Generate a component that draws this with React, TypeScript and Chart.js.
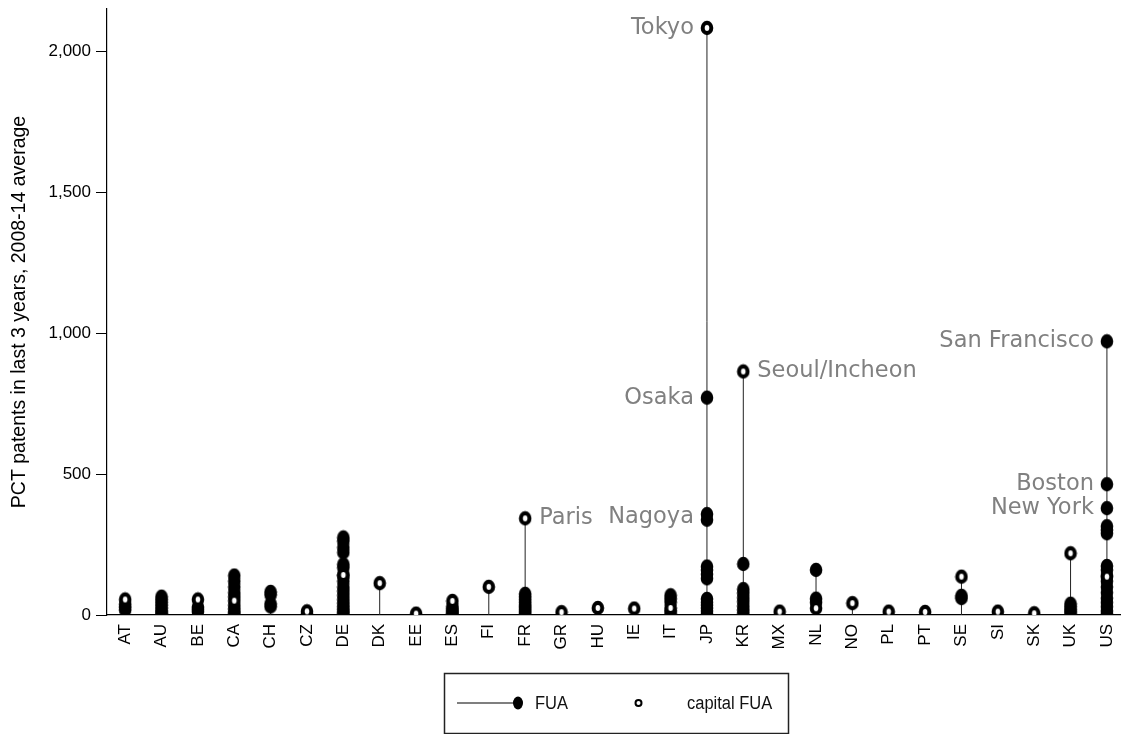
import React, { useEffect, useRef } from "react";
import { Chart, registerables } from "chart.js";

Chart.register(...registerables);

const countries = ["AT", "AU", "BE", "CA", "CH", "CZ", "DE", "DK", "EE", "ES", "FI", "FR", "GR", "HU", "IE", "IT", "JP", "KR", "MX", "NL", "NO", "PL", "PT", "SE", "SI", "SK", "UK", "US"];

// FUA values (filled dots) per country, in the order of `countries`
const fuaValues: number[][] = [
  [18, 28, 38],                                                     // AT
  [65, 55, 45, 35, 25, 15, 8, 3],                                   // AU
  [12, 20, 28],                                                     // BE
  [140, 120, 100, 80, 65, 35, 22, 10, 4],                           // CA
  [82, 72, 40, 30],                                                 // CH
  [4],                                                              // CZ
  [275, 262, 240, 222, 180, 168, 140, 120, 100, 85, 70, 55, 42, 30, 20, 10, 4], // DE
  [],                                                               // DK
  [],                                                               // EE
  [30, 22, 14, 7, 3],                                               // ES
  [],                                                               // FI
  [75, 65, 55, 45, 35, 28, 20, 12, 5],                              // FR
  [],                                                               // GR
  [],                                                               // HU
  [],                                                               // IE
  [70, 58, 45, 15, 6],                                              // IT
  [771, 358, 338, 172, 160, 145, 130, 57, 45, 35, 25, 15, 5],       // JP
  [181, 92, 78, 62, 48, 32, 18, 6],                                 // KR
  [],                                                               // MX
  [160, 58, 45],                                                    // NL
  [],                                                               // NO
  [],                                                               // PL
  [],                                                               // PT
  [68, 60],                                                         // SE
  [],                                                               // SI
  [],                                                               // SK
  [40, 30, 20, 12, 5],                                              // UK
  [971, 464, 379, 315, 302, 290, 174, 160, 140, 120, 100, 80, 60, 45, 30, 15, 5], // US
];

// capital FUA value per country (null = not shown)
const capitalValues: (number | null)[] = [
  55, null, 55, 51, null, 13, 142, 113, 5, 50, 100, 343, 10, 25, 23, 25, 2083, 864, 12, 24, 42, 12, 11, 136, 12, 6, 219, 136,
];

const yTicks = [0, 500, 1000, 1500, 2000];

const labelNames = ["Tokyo", "Osaka", "Nagoya", "Seoul/Incheon", "Paris", "San Francisco", "Boston", "New York"];
const labelCountries = ["JP", "JP", "JP", "KR", "FR", "US", "US", "US"];
const labelValues = [2083, 771, 348, 864, 343, 971, 464, 379];
const labelSides = ["left", "left", "left", "right", "right", "left", "left", "left"];

const legendLabels = ["FUA", "capital FUA"];

function makeMarker(filled: boolean): HTMLCanvasElement {
  const c = document.createElement("canvas");
  c.width = 14;
  c.height = 16;
  const g = c.getContext("2d")!;
  g.fillStyle = "#000";
  g.beginPath();
  g.ellipse(7, 8, 6.3, 7.2, 0, 0, Math.PI * 2);
  g.fill();
  if (!filled) {
    g.fillStyle = "#fff";
    g.beginPath();
    g.ellipse(7, 8, 2.3, 2.9, 0, 0, Math.PI * 2);
    g.fill();
  }
  return c;
}

export default function App() {
  const canvasRef = useRef<HTMLCanvasElement | null>(null);

  useEffect(() => {
    const canvas = canvasRef.current;
    if (!canvas) return;

    const fuaPoints: { x: number; y: number }[] = [];
    fuaValues.forEach((vals, i) => vals.forEach((v) => fuaPoints.push({ x: i, y: v })));

    const capPoints: { x: number; y: number }[] = [];
    capitalValues.forEach((v, i) => {
      if (v !== null) capPoints.push({ x: i, y: v });
    });

    const stemPoints: { x: number; y: number | null }[] = [];
    countries.forEach((_, i) => {
      const all = [...fuaValues[i], ...(capitalValues[i] !== null ? [capitalValues[i] as number] : [])];
      const mx = Math.max(...all);
      stemPoints.push({ x: i, y: 0 }, { x: i, y: mx }, { x: i, y: null });
    });

    const filledMarker = makeMarker(true);
    const hollowMarker = makeMarker(false);

    const annotationPlugin = {
      id: "cityLabels",
      afterDatasetsDraw(chart: any) {
        const { ctx, scales } = chart;
        ctx.save();
        ctx.fillStyle = "#808080";
        ctx.font = "22.5px 'DejaVu Sans'";
        ctx.textBaseline = "middle";
        labelNames.forEach((name, k) => {
          const xi = countries.indexOf(labelCountries[k]);
          const px = scales.x.getPixelForValue(xi);
          const py = scales.y.getPixelForValue(labelValues[k]);
          const left = labelSides[k] === "left";
          ctx.save();
          ctx.translate(left ? px - 13 : px + 14, py);
          ctx.scale(1, 1.03);
          ctx.textAlign = left ? "right" : "left";
          ctx.fillText(name, 0, 0);
          ctx.restore();
        });
        ctx.restore();
      },
    };

    const legendPlugin = {
      id: "boxLegend",
      afterDraw(chart: any) {
        const { ctx } = chart;
        ctx.save();
        ctx.strokeStyle = "#222";
        ctx.lineWidth = 1.5;
        ctx.strokeRect(444.5, 673.5, 344, 60);
        const ly = 703;
        ctx.strokeStyle = "#000";
        ctx.lineWidth = 1.2;
        ctx.beginPath();
        ctx.moveTo(457, ly);
        ctx.lineTo(516, ly);
        ctx.stroke();
        ctx.fillStyle = "#000";
        ctx.beginPath();
        ctx.ellipse(518, ly, 5, 6.5, 0, 0, Math.PI * 2);
        ctx.fill();
        ctx.beginPath();
        ctx.arc(638.5, ly, 3, 0, Math.PI * 2);
        ctx.fillStyle = "#fff";
        ctx.fill();
        ctx.lineWidth = 2;
        ctx.strokeStyle = "#000";
        ctx.stroke();
        ctx.fillStyle = "#111";
        ctx.font = "16.5px 'Liberation Sans'";
        ctx.textBaseline = "middle";
        ctx.textAlign = "left";
        ctx.save();
        ctx.translate(535, ly + 1);
        ctx.scale(1, 1.1);
        ctx.fillText(legendLabels[0], 0, 0);
        ctx.restore();
        ctx.save();
        ctx.translate(687, ly + 1);
        ctx.scale(1, 1.1);
        ctx.fillText(legendLabels[1], 0, 0);
        ctx.restore();
        ctx.restore();
      },
    };

    const chart = new Chart(canvas, {
      type: "scatter",
      data: {
        datasets: [
          {
            label: "capital FUA",
            data: capPoints,
            pointStyle: hollowMarker as any,
            pointRadius: 7,
            order: 1,
          },
          {
            label: "FUA",
            data: fuaPoints,
            pointStyle: filledMarker as any,
            pointRadius: 7,
            order: 2,
          },
          {
            label: "stems",
            data: stemPoints as any,
            showLine: true,
            spanGaps: false,
            pointRadius: 0,
            borderColor: "#222222",
            borderWidth: 1,
            order: 3,
          },
        ],
      },
      options: {
        responsive: false,
        animation: false,
        layout: { autoPadding: false, padding: { top: 9, right: 3, left: 0, bottom: 0 } },
        plugins: {
          legend: { display: false },
          tooltip: { enabled: false },
        },
        scales: {
          x: {
            type: "linear",
            min: -0.5,
            max: 27.36,
            afterFit(scale: any) {
              scale.height = 119;
              scale.paddingLeft = 0;
              scale.paddingRight = 0;
            },
            afterBuildTicks(scale: any) {
              scale.ticks = countries.map((_, i) => ({ value: i }));
            },
            ticks: {
              autoSkip: false,
              minRotation: 90,
              maxRotation: 90,
              padding: 9,
              color: "#000",
              font: { family: "'Liberation Sans'", size: 17 },
              callback: (v: any) => countries[Math.round(Number(v))] ?? "",
            },
            grid: { display: false, drawTicks: false },
            border: { display: true, color: "#000", width: 1.2 },
          },
          y: {
            type: "linear",
            min: 0,
            max: 2150,
            afterFit(scale: any) {
              scale.width = 107;
              scale.paddingTop = 0;
              scale.paddingBottom = 0;
            },
            afterBuildTicks(scale: any) {
              scale.ticks = yTicks.map((v) => ({ value: v }));
            },
            ticks: {
              padding: 5,
              color: "#000",
              font: { family: "'Liberation Sans'", size: 17 },
              callback: (v: any) => Number(v).toLocaleString("en-US"),
            },
            grid: { drawOnChartArea: false, drawTicks: true, tickLength: 11, color: "#000", tickColor: "#000" },
            border: { display: true, color: "#000", width: 1.2 },
            title: {
              display: true,
              text: "PCT patents in last 3 years, 2008-14 average",
              color: "#000",
              font: { family: "'Liberation Sans'", size: 19.5 },
              padding: { top: 8, bottom: 0 },
            },
          },
        },
      },
      plugins: [annotationPlugin, legendPlugin],
    });

    return () => chart.destroy();
  }, []);

  return (
    <div style={{ position: "fixed", left: 0, top: 0, width: 1123, height: 734, background: "#fff" }}>
      <canvas ref={canvasRef} width={1123} height={734} />
    </div>
  );
}
